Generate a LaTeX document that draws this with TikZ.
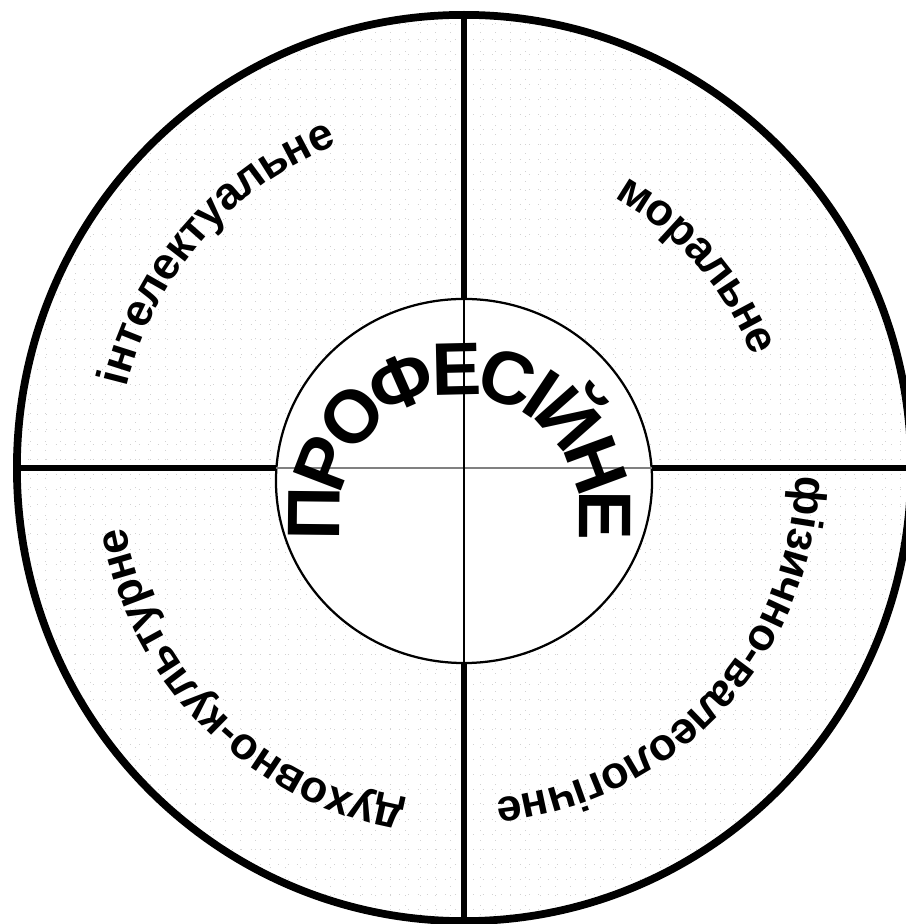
\documentclass[tikz,border=0pt]{standalone}
\usepackage{fontspec}
\setmainfont{Liberation Sans}
\usetikzlibrary{shapes.geometric, decorations.text}
\newcommand{\sectorfont}{\fontsize{32}{32}\selectfont\bfseries}
\newcommand{\corefont}{\fontsize{53}{53}\selectfont\bfseries}

\begin{document}
\begin{tikzpicture}[
        x=0.025cm, y=0.025cm,
        ring/.style={draw, ellipse, line width=5.5pt, inner sep=0pt, outer sep=0pt,
            minimum width=22.35cm, minimum height=22.65cm},
        core/.style={draw, ellipse, line width=1.6pt, inner sep=0pt, outer sep=0pt, fill=white,
            minimum width=9.4cm, minimum height=9.1cm},
        spoke/.style={line width=4.8pt},
        hair/.style={line width=0.9pt},
        paper/.style={gray!35, line width=0.6pt, dash pattern=on 0.6pt off 6pt},
        arctext/.style={decorate, decoration={text along path, text align=center,
            raise=#1, text format delimiters={|}{|}}}
    ]
        \useasboundingbox (0,0) rectangle (905,924);
        \coordinate (mid) at (464,456);
        \coordinate (arch) at (460,409);

        % dotted paper in the ring
        \begin{scope}
            \clip (mid) ellipse [x radius=447, y radius=453];
            \draw[paper] (0,0) grid[step=15] (905,924);
        \end{scope}

        \node[ring] (outer) at (mid) {};
        \node[core] (kernel) at (464,443) {};

        \draw[spoke] (outer.west) -- (kernel.west |- outer.west);
        \draw[spoke] (kernel.east |- outer.east) -- (outer.east);
        \draw[spoke] (outer.north) -- (kernel.north);
        \draw[spoke] (kernel.south) -- (outer.south);
        \draw[hair, gray] (kernel.west |- outer.west) -- (kernel.east |- outer.east);
        \draw[hair] (kernel.north) -- (kernel.south);

        % sector labels
        \path[arctext=-8pt, decoration={text={|\sectorfont|інтелектуальне}}]
            ([shift={(184:358)}]mid) arc[start angle=184, end angle=94, radius=358];
        \path[arctext=-8pt, decoration={text={|\sectorfont|моральне}}]
            ([shift={(86:320)}]mid) arc[start angle=86, end angle=-4, radius=320];
        \path[arctext=-8pt, decoration={text={|\sectorfont|фізично-валеологічне}}]
            ([shift={(12:343)}]mid) arc[start angle=12, end angle=-98, radius=343];
        \path[arctext=-8pt, decoration={text={|\sectorfont|духовно-культурне}}]
            ([shift={(275:355)}]mid) arc[start angle=275, end angle=175, radius=355];

        \path[arctext=-18pt, decoration={text={|\corefont|ПРОФЕСІЙНЕ}}]
            ([shift={(205:145)}]arch) arc[start angle=205, end angle=-25, radius=145];
    \end{tikzpicture}
\end{document}
